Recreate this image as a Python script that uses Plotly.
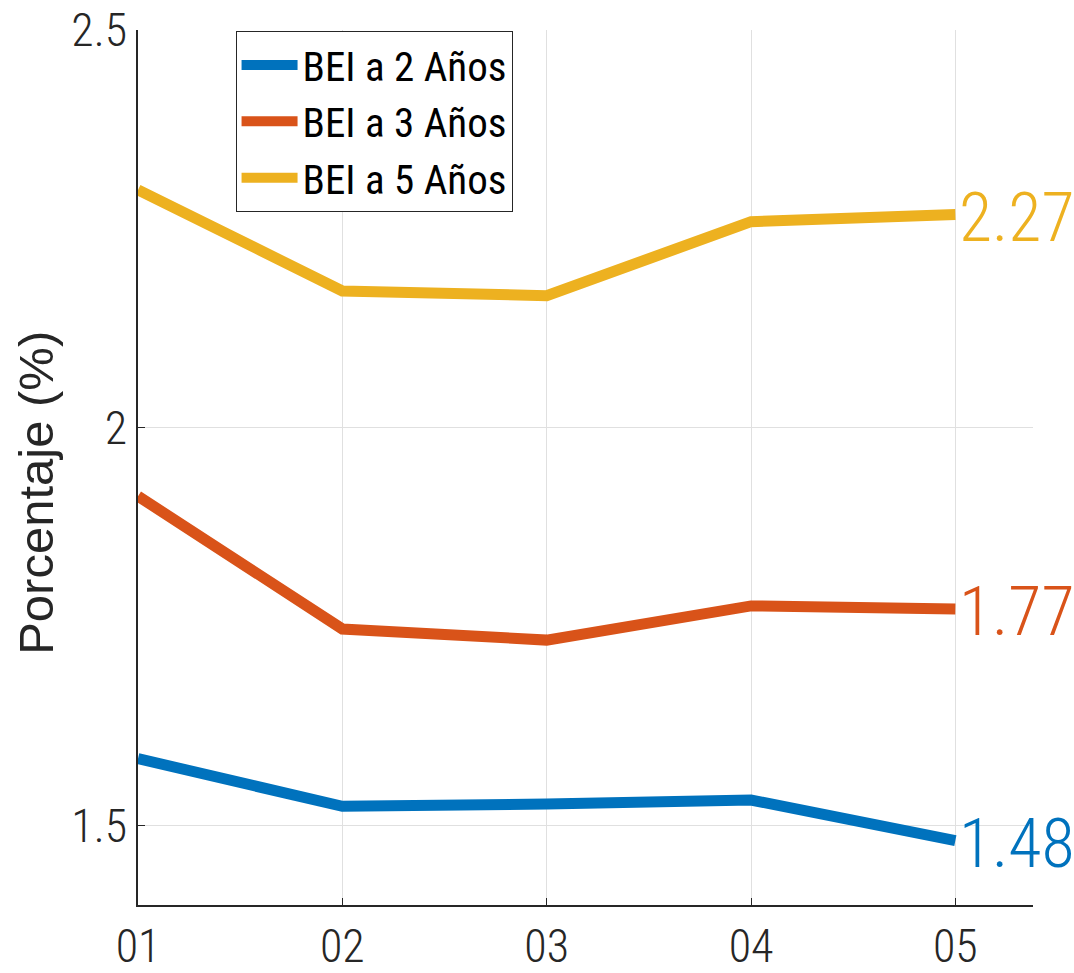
import plotly.graph_objects as go

categories = ["01", "02", "03", "04", "05"]
x_pos = [1, 2, 3, 4, 5]
bei2 = [1.584, 1.524, 1.527, 1.532, 1.481]
bei3 = [1.914, 1.747, 1.733, 1.776, 1.772]
bei5 = [2.299, 2.172, 2.166, 2.259, 2.268]
series_names = ["BEI a 2 Años", "BEI a 3 Años", "BEI a 5 Años"]
end_labels = ["1.48", "1.77", "2.27"]
colors = ["#0072BD", "#D95319", "#EDB120"]
y_title = "Porcentaje (%)"

NARROW = "Roboto Condensed, Liberation Sans Narrow, Arial Narrow, sans-serif"
REG = "Liberation Sans, Arial, Helvetica, sans-serif"

fig = go.Figure()
for name, vals, col in zip(series_names, [bei2, bei3, bei5], colors):
    fig.add_trace(go.Scatter(x=x_pos, y=vals, mode="lines", name=name,
                             line=dict(color=col, width=11)))

for vals, lab, col in zip([bei2, bei3, bei5], end_labels, colors):
    fig.add_annotation(x=x_pos[-1], y=vals[-1], text=lab, showarrow=False,
                       xanchor="left", yanchor="middle", xshift=2, yshift=-3,
                       font=dict(family=NARROW, size=68, color=col, weight=300))

# y-axis title placed as rotated annotation (to mirror the reference position)
fig.add_annotation(xref="paper", yref="paper", x=-0.114, y=0.471, text=y_title,
                   showarrow=False, textangle=-90, xanchor="center", yanchor="middle",
                   font=dict(family=REG, size=49, color="#262626"))

fig.update_layout(
    width=1074, height=973,
    margin=dict(l=138, r=41, t=30, b=68),
    paper_bgcolor="white", plot_bgcolor="white",
    showlegend=True,
    legend=dict(x=0.109, y=0.999, xanchor="left", yanchor="top",
                bgcolor="white", bordercolor="#262626", borderwidth=1,
                font=dict(family=NARROW, size=41, color="black", weight=400),
                itemwidth=56, tracegroupgap=0),
    xaxis=dict(range=[1, 5.38], tickvals=x_pos, ticktext=categories,
               showgrid=True, gridcolor="#e0e0e0", gridwidth=1,
               showline=True, linecolor="#262626", linewidth=1.5,
               ticks="inside", ticklen=7, tickcolor="#262626",
               tickfont=dict(family=NARROW, size=46, color="#262626", weight=300),
               automargin=False, zeroline=False, fixedrange=True),
    yaxis=dict(range=[1.4, 2.5], tickvals=[1.5, 2, 2.5], ticktext=["1.5", "2", "2.5"],
               showgrid=True, gridcolor="#e0e0e0", gridwidth=1,
               showline=True, linecolor="#262626", linewidth=1.5,
               ticks="inside", ticklen=7, tickcolor="#262626",
               tickfont=dict(family=NARROW, size=46, color="#262626", weight=300),
               automargin=False, zeroline=False, fixedrange=True),
)

fig.write_html("out.html", config={"displayModeBar": False},
               post_script="document.body.style.margin='0';document.body.style.overflow='hidden';")
